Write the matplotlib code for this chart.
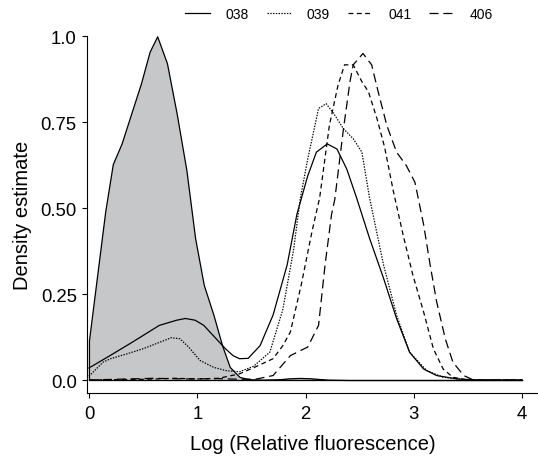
"""Density estimates of log relative fluorescence, control filled in gray."""

import matplotlib
matplotlib.use("Agg")
import matplotlib.pyplot as plt

plt.rcParams["font.family"] = ["Liberation Sans", "DejaVu Sans"]
plt.rcParams["lines.scale_dashes"] = False

# control (gray fill)
x_ctrl = [0, 0.15, 0.22, 0.30, 0.39, 0.48, 0.56, 0.63, 0.72, 0.81, 0.90, 0.98,
          1.06, 1.15, 1.23, 1.30, 1.39, 1.48, 1.60, 1.75, 1.85, 1.95, 2.05,
          2.20, 2.40, 4.0]
y_ctrl = [0.115, 0.49, 0.628, 0.687, 0.775, 0.863, 0.955, 1.0, 0.922, 0.775,
          0.61, 0.413, 0.277, 0.189, 0.10, 0.038, 0.009, 0.002, 0.001, 0.002,
          0.005, 0.006, 0.005, 0.001, 0.0, 0.0]

x_038 = [0, 0.2, 0.4, 0.65, 0.81, 0.89, 0.98, 1.06, 1.16, 1.26, 1.33, 1.39,
         1.47, 1.58, 1.70, 1.83, 1.92, 2.02, 2.10, 2.20, 2.29, 2.38, 2.47,
         2.59, 2.72, 2.84, 2.96, 3.09, 3.21, 3.40, 3.6, 4.0]
y_038 = [0.035, 0.072, 0.11, 0.159, 0.174, 0.179, 0.174, 0.159, 0.125, 0.091,
         0.071, 0.062, 0.063, 0.10, 0.189, 0.335, 0.482, 0.594, 0.663, 0.687,
         0.672, 0.614, 0.531, 0.413, 0.296, 0.179, 0.081, 0.032, 0.013, 0.003,
         0.0, 0.0]

x_039 = [0, 0.13, 0.2, 0.35, 0.50, 0.655, 0.76, 0.84, 0.92, 1.025, 1.15, 1.27,
         1.39, 1.52, 1.67, 1.79, 1.89, 1.95, 2.02, 2.12, 2.19, 2.26, 2.35,
         2.44, 2.52, 2.59, 2.72, 2.84, 2.96, 3.12, 3.27, 3.5, 4.0]
y_039 = [0.011, 0.052, 0.062, 0.076, 0.091, 0.11, 0.123, 0.12, 0.096, 0.057,
         0.037, 0.027, 0.024, 0.04, 0.081, 0.205, 0.38, 0.526, 0.643, 0.79,
         0.804, 0.775, 0.731, 0.702, 0.663, 0.531, 0.335, 0.189, 0.081, 0.027,
         0.008, 0.0, 0.0]

x_041 = [0, 0.5, 0.8, 1.0, 1.2, 1.39, 1.55, 1.70, 1.79, 1.86, 1.96, 2.06,
         2.13, 2.22, 2.30, 2.36, 2.44, 2.52, 2.58, 2.66, 2.73, 2.81, 2.90,
         2.99, 3.09, 3.18, 3.27, 3.36, 3.5, 4.0]
y_041 = [0.0, 0.002, 0.005, 0.003, 0.005, 0.018, 0.04, 0.062, 0.10, 0.14,
         0.277, 0.433, 0.53, 0.741, 0.858, 0.917, 0.917, 0.868, 0.839, 0.76,
         0.677, 0.55, 0.423, 0.306, 0.198, 0.091, 0.032, 0.008, 0.0, 0.0]

x_406 = [0, 0.6, 0.9, 1.2, 1.4, 1.55, 1.70, 1.86, 2.02, 2.12, 2.18, 2.24,
         2.27, 2.35, 2.41, 2.44, 2.53, 2.61, 2.67, 2.75, 2.84, 2.93, 3.01,
         3.09, 3.15, 3.21, 3.29, 3.36, 3.46, 3.55, 4.0]
y_406 = [0.0, 0.005, 0.003, 0.004, 0.002, 0.003, 0.013, 0.071, 0.096, 0.159,
         0.335, 0.482, 0.526, 0.731, 0.868, 0.917, 0.95, 0.917, 0.839, 0.741,
         0.663, 0.624, 0.575, 0.452, 0.335, 0.228, 0.12, 0.052, 0.013, 0.0,
         0.0]

x_ticks = [0, 1, 2, 3, 4]
y_ticks = [0.0, 0.25, 0.50, 0.75, 1.0]
y_tick_labels = ["0.0", "0.25", "0.50", "0.75", "1.0"]


def main():
    fig = plt.figure(figsize=(5.38, 4.6), dpi=100)
    ax = fig.add_axes([87 / 538, 66 / 460, 451 / 538, 356.7 / 460])

    lw = 0.9
    ax.fill_between(x_ctrl, y_ctrl, color="#c6c7c9", edgecolor="black",
                    linewidth=lw, zorder=1)
    ax.plot(x_038, y_038, color="black", lw=lw, label="038", zorder=3)
    ax.plot(x_039, y_039, color="black", lw=lw, ls=(0, (1.0, 1.0)),
            label="039", zorder=3)
    ax.plot(x_041, y_041, color="black", lw=lw, ls=(0, (3.5, 2.5)),
            label="041", zorder=3)
    ax.plot(x_406, y_406, color="black", lw=lw, ls=(0, (6.5, 3.5)),
            label="406", zorder=3)

    ax.set_xlim(-0.018, 4.146)
    ax.set_ylim(-0.0378, 1.0)
    ax.set_xticks(x_ticks)
    ax.set_yticks(y_ticks)
    ax.set_yticklabels(y_tick_labels)
    ax.tick_params(length=3.8, width=0.8, labelsize=13.3, pad=4.5)
    ax.tick_params(axis="y", pad=3.5)

    for side in ("top", "right"):
        ax.spines[side].set_visible(False)
    for side in ("left", "bottom"):
        ax.spines[side].set_linewidth(0.8)

    ax.set_xlabel("Log (Relative fluorescence)", fontsize=14.5, labelpad=9)
    ax.set_ylabel("Density estimate", fontsize=14.5, labelpad=6)

    fig.legend(loc="center", bbox_to_anchor=(339 / 538, 1 - 15 / 460), ncol=4,
               frameon=False, fontsize=10, handlelength=1.8,
               handletextpad=1.1, columnspacing=1.3)

    fig.savefig("out.png", dpi=100)


if __name__ == "__main__":
    main()
